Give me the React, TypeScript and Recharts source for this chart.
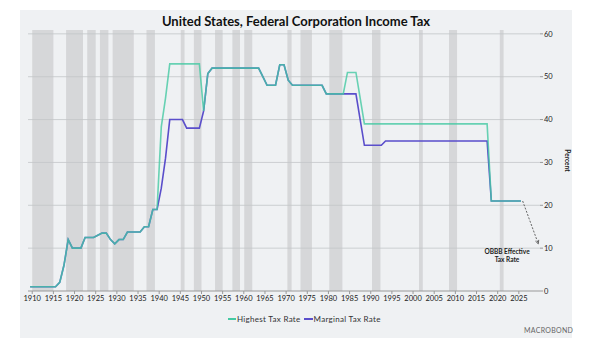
import {
  LineChart,
  Line,
  XAxis,
  YAxis,
  ReferenceArea,
  ReferenceLine,
  ReferenceDot,
} from 'recharts';

// run-length tables: [firstYear, lastYear, rate %]
const highestRuns: Array<[number, number, number]> = [
  [1909, 1915, 1], [1916, 1916, 2], [1917, 1917, 6], [1918, 1918, 12],
  [1919, 1921, 10], [1922, 1924, 12.5], [1925, 1925, 13], [1926, 1927, 13.5],
  [1928, 1928, 12], [1929, 1929, 11], [1930, 1931, 12], [1932, 1935, 13.75],
  [1936, 1937, 15], [1938, 1939, 19], [1940, 1940, 38.3], [1941, 1941, 45],
  [1942, 1949, 53], [1950, 1950, 42], [1951, 1951, 50.75], [1952, 1963, 52],
  [1964, 1964, 50], [1965, 1967, 48], [1968, 1969, 52.8], [1970, 1970, 49.2],
  [1971, 1978, 48], [1979, 1983, 46], [1984, 1986, 51], [1987, 1987, 45],
  [1988, 2017, 39], [2018, 2025, 21],
];

const marginalRuns: Array<[number, number, number]> = [
  [1909, 1915, 1], [1916, 1916, 2], [1917, 1917, 6], [1918, 1918, 12],
  [1919, 1921, 10], [1922, 1924, 12.5], [1925, 1925, 13], [1926, 1927, 13.5],
  [1928, 1928, 12], [1929, 1929, 11], [1930, 1931, 12], [1932, 1935, 13.75],
  [1936, 1937, 15], [1938, 1939, 19], [1940, 1940, 24], [1941, 1941, 31],
  [1942, 1945, 40], [1946, 1949, 38], [1950, 1950, 42], [1951, 1951, 50.75],
  [1952, 1963, 52], [1964, 1964, 50], [1965, 1967, 48], [1968, 1969, 52.8],
  [1970, 1970, 49.2], [1971, 1978, 48], [1979, 1986, 46], [1987, 1987, 40],
  [1988, 1992, 34], [1993, 2017, 35], [2018, 2025, 21],
];

// shaded recession periods (decimal years)
const recessions: Array<[number, number]> = [
  [1910, 1915], [1918, 1922], [1923, 1925], [1926, 1928], [1929, 1934],
  [1937, 1939], [1945.1, 1946], [1948.2, 1950], [1953.2, 1955], [1957.3, 1959.1],
  [1960.1, 1962], [1970.3, 1971.3], [1973.4, 1976.1], [1980.2, 1983.3],
  [1990.3, 1992.3], [2001.4, 2002.3], [2008.5, 2010.4], [2020.5, 2021.4],
];

const xTicks = [1910, 1915, 1920, 1925, 1930, 1935, 1940, 1945, 1950, 1955, 1960,
  1965, 1970, 1975, 1980, 1985, 1990, 1995, 2000, 2005, 2010, 2015, 2020, 2025];
const yTicks = [0, 10, 20, 30, 40, 50, 60];

const TEAL = '#45c9a3';
const PURPLE = '#5a4ecb';
const FONT = 'Lato, "Noto Sans", sans-serif';

function expand(runs: Array<[number, number, number]>): Map<number, number> {
  const out = new Map<number, number>();
  runs.forEach(([a, b, v]) => {
    for (let yr = a; yr <= b; yr++) out.set(yr, v);
  });
  return out;
}

const highest = expand(highestRuns);
const marginal = expand(marginalRuns);
// annual values plotted at mid-year
const data = Array.from(highest.keys()).map((yr) => ({
  year: yr + 0.5,
  highest: highest.get(yr),
  marginal: marginal.get(yr),
}));

function Arrow(props: any) {
  const { x1, y1, x2, y2 } = props;
  const ang = Math.atan2(y2 - y1, x2 - x1);
  const s = 4;
  const p1 = `${x2},${y2}`;
  const p2 = `${x2 - s * Math.cos(ang - 0.45)},${y2 - s * Math.sin(ang - 0.45)}`;
  const p3 = `${x2 - s * Math.cos(ang + 0.45)},${y2 - s * Math.sin(ang + 0.45)}`;
  return (
    <g>
      <line x1={x1} y1={y1} x2={x2} y2={y2} stroke="#555" strokeWidth={0.9} strokeDasharray="2 1.5" />
      <polyline points={`${p2} ${p1} ${p3}`} fill="none" stroke="#555" strokeWidth={0.9} />
    </g>
  );
}

function Note(props: any) {
  const { viewBox } = props;
  const cx = viewBox.x + (viewBox.width || 0) / 2;
  const cy = viewBox.y + (viewBox.height || 0) / 2;
  return (
    <text x={cx} y={cy} textAnchor="middle" fontFamily={FONT} fontSize={6.5} fontWeight={700} fill="#222">
      <tspan x={cx} dy={2}>OBBB Effective</tspan>
      <tspan x={cx} dy={8}>Tax Rate</tspan>
    </text>
  );
}

export default function App() {
  return (
    <div style={{ position: 'absolute', left: 0, top: 0, width: 600, height: 350, background: '#fff' }}>
      <div style={{ position: 'absolute', left: 20, top: 10, width: 552, height: 328, background: '#eff1f3' }}>
        <div
          style={{
            position: 'absolute', left: 0, top: 3, width: 552, textAlign: 'center',
            fontFamily: FONT, fontWeight: 700, fontSize: 13, color: '#111',
          }}
        >
          United States, Federal Corporation Income Tax
        </div>
        <LineChart width={552} height={328} data={data} margin={{ top: 20, right: 0, bottom: 27, left: 8 }}>
          <XAxis
            dataKey="year"
            type="number"
            domain={[1909, 2030]}
            ticks={xTicks}
            interval={0}
            height={20}
            tick={{ fontSize: 7.5, fill: '#222', fontFamily: FONT }}
            tickSize={3}
            tickMargin={2}
            axisLine={{ stroke: '#999' }}
            tickLine={{ stroke: '#999' }}
          />
          <YAxis
            orientation="right"
            width={32}
            domain={[0, 60.9]}
            ticks={yTicks}
            allowDataOverflow
            axisLine={false}
            tickSize={3}
            tickMargin={1}
            tickLine={{ stroke: '#999' }}
            tick={{ fontSize: 7.5, fill: '#222', fontFamily: FONT, textAnchor: 'start' }}
            label={{
              content: ({ viewBox }: any) => {
                const x = viewBox.x + 25;
                const y = viewBox.y + viewBox.height / 2;
                return (
                  <text x={x} y={y} transform={`rotate(90 ${x} ${y})`} textAnchor="middle"
                    fontFamily={FONT} fontSize={6.5} fontWeight={700} fill="#222">
                    Percent
                  </text>
                );
              },
            }}
          />
          {recessions.map(([a, b]) => (
            <ReferenceArea key={a} x1={a} x2={b} y1={0} y2={60.9} fill="#d6d7d9" fillOpacity={1} stroke="none" />
          ))}
          {yTicks.slice(1).map((v) => (
            <ReferenceLine key={v} y={v} stroke="#c3c5c8" strokeWidth={0.8} />
          ))}
          <Line dataKey="marginal" stroke={PURPLE} strokeWidth={1.6} dot={false} isAnimationActive={false} />
          <Line dataKey="highest" stroke={TEAL} strokeOpacity={0.8} strokeWidth={1.6} dot={false} isAnimationActive={false} />
          <ReferenceLine
            segment={[{ x: 2025.9, y: 21 }, { x: 2029.6, y: 11 }]}
            ifOverflow="visible"
            shape={Arrow}
          />
          <ReferenceDot x={2022.2} y={9} r={0} ifOverflow="visible" label={{ content: Note }} />
        </LineChart>
        <div
          style={{
            position: 'absolute', left: 208, top: 304, display: 'flex', alignItems: 'center',
            fontFamily: FONT, fontSize: 8, letterSpacing: 0.3, color: '#333', whiteSpace: 'nowrap',
          }}
        >
          <span style={{ display: 'inline-block', width: 8, height: 1.5, background: TEAL, marginRight: 1 }} />
          <span style={{ marginRight: 3 }}>Highest Tax Rate</span>
          <span style={{ display: 'inline-block', width: 9, height: 1.5, background: PURPLE, marginRight: 1 }} />
          <span>Marginal Tax Rate</span>
        </div>
        <div
          style={{
            position: 'absolute', left: 504, top: 316, fontFamily: FONT, fontSize: 7,
            letterSpacing: 0.3, color: '#666',
          }}
        >
          MACROBOND
        </div>
      </div>
    </div>
  );
}
